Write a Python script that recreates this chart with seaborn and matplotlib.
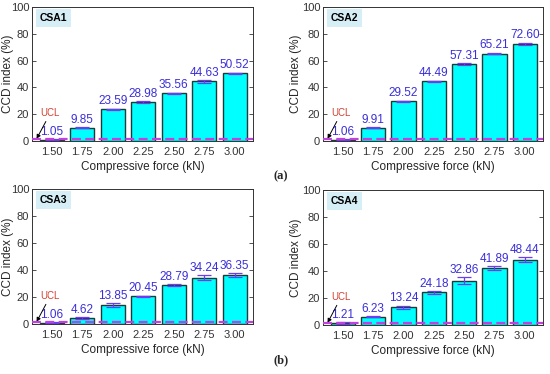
import matplotlib
matplotlib.use("Agg")
import matplotlib.pyplot as plt
import seaborn as sns
import pandas as pd
import numpy as np

forces = ["1.50", "1.75", "2.00", "2.25", "2.50", "2.75", "3.00"]
csa1 = [1.05, 9.85, 23.59, 28.98, 35.56, 44.63, 50.52]
csa2 = [1.06, 9.91, 29.52, 44.49, 57.31, 65.21, 72.60]
csa3 = [1.06, 4.62, 13.85, 20.45, 28.79, 34.24, 36.35]
csa4 = [1.21, 6.23, 13.24, 24.18, 32.86, 41.89, 48.44]
err1 = [0.3, 0.4, 0.6, 0.7, 0.6, 1.0, 0.5]
err2 = [0.3, 0.4, 0.6, 0.5, 0.6, 0.6, 0.7]
err3 = [0.3, 0.6, 1.5, 0.5, 0.6, 2.0, 1.5]
err4 = [0.8, 0.5, 1.2, 1.0, 2.5, 1.5, 2.0]
panel_names = ["CSA1", "CSA2", "CSA3", "CSA4"]
ucl = 1.6

sns.set_theme(style="white")
plt.rcParams['font.family'] = ['Liberation Sans', 'DejaVu Sans']

fig = plt.figure(figsize=(5.5, 3.74), dpi=100)
W, H = 550, 374
boxes = [(32, 7, 253, 141), (323, 7, 543, 141), (32, 189, 253, 324), (323, 190, 543, 325)]
datasets = [(csa1, err1), (csa2, err2), (csa3, err3), (csa4, err4)]

for (x0, y0, x1, y1), (vals, errs), name in zip(boxes, datasets, panel_names):
    ax = fig.add_axes([x0 / W, 1 - y1 / H, (x1 - x0) / W, (y1 - y0) / H])
    df = pd.DataFrame({"force": forces, "ccd": vals})
    sns.barplot(data=df, x="force", y="ccd", ax=ax, color="#00FFFF", saturation=1,
                edgecolor="#1f3a3a", linewidth=1.0, width=0.8, errorbar=None)
    xs = np.arange(len(forces))
    ax.errorbar(xs, vals, yerr=errs, fmt="none", ecolor="#6a3df0", elinewidth=0.9,
                capsize=5, capthick=0.9)
    ax.axhline(ucl, color="#c040e0", lw=1.6, ls=(0, (4, 2)), zorder=5)
    for xi, v, e in zip(xs, vals, errs):
        ax.text(xi, v + max(e, 0.5) + 1.0, f"{v:.2f}", ha="center", va="bottom",
                color="#3a2fd8", fontsize=8.5)
    ax.annotate("UCL", xy=(-0.5, ucl), xytext=(-0.05, 17), color="#d04030",
                fontsize=7, ha="center", va="bottom",
                arrowprops=dict(arrowstyle="-|>", color="black", lw=0.7,
                                mutation_scale=6, shrinkA=0, shrinkB=0))
    ax.text(0.035, 0.955, name, transform=ax.transAxes, ha="left", va="top",
            fontsize=7.5, fontweight="bold", color="black",
            bbox=dict(boxstyle="square,pad=0.4", fc="#d6eef5", ec="none"))
    ax.set_xlim(-0.65, 6.6)
    ax.set_ylim(0, 100)
    ax.set_yticks([0, 20, 40, 60, 80, 100])
    ax.set_xlabel("Compressive force (kN)", fontsize=8.5, labelpad=3)
    ax.set_ylabel("CCD index (%)", fontsize=8.5)
    right_edge = 14 if x0 < 100 else 302
    ax.yaxis.set_label_coords((right_edge - x0) / (x1 - x0), 0.5)
    ax.tick_params(axis="both", labelsize=8, direction="in", length=3, width=0.6,
                   colors="#333333", pad=2)
    ax.tick_params(axis="x", pad=4)
    ax.tick_params(axis="y", right=True, left=True)
    ax.tick_params(axis="x", bottom=False)
    for s in ax.spines.values():
        s.set_color("#333333")
        s.set_linewidth(0.7)

fig.text(281 / W, 1 - 176 / H, "(a)", ha="center", va="center", fontsize=9,
         fontweight="bold", family=["Liberation Serif"])
fig.text(281 / W, 1 - 360 / H, "(b)", ha="center", va="center", fontsize=9,
         fontweight="bold", family=["Liberation Serif"])

fig.savefig("out.png", dpi=100)
